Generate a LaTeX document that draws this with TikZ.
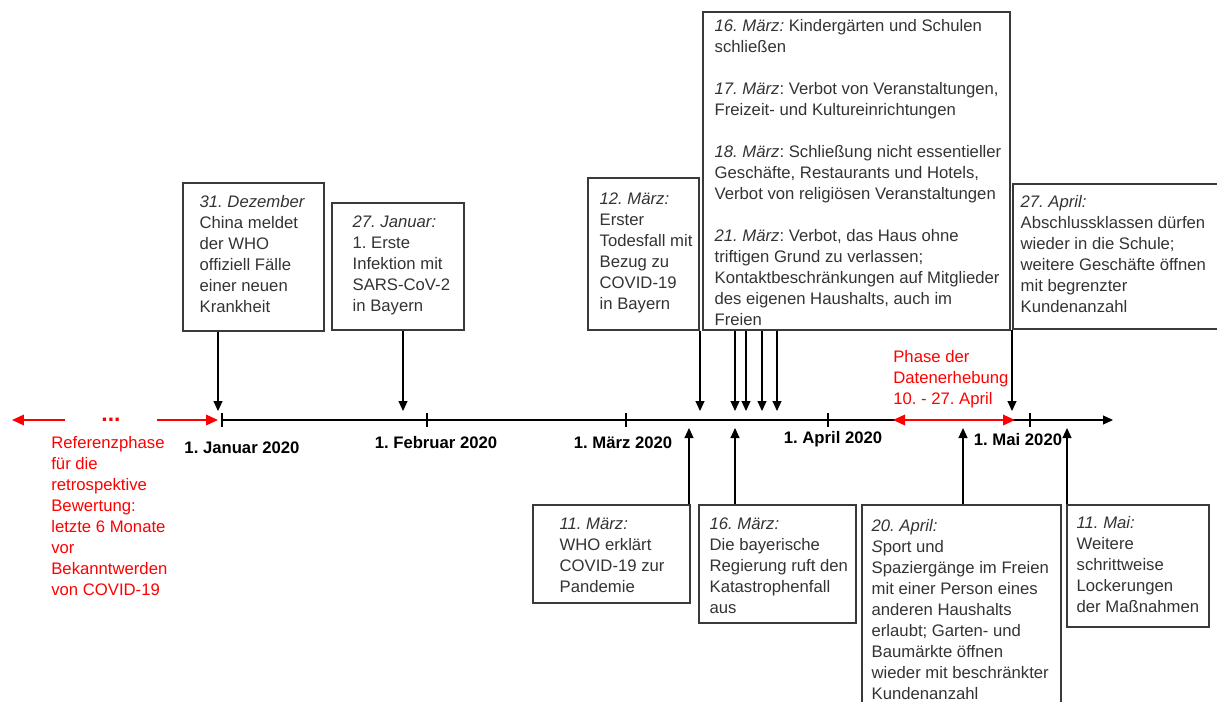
\documentclass[tikz,border=0pt]{standalone}
\usepackage{fontspec}
\setmainfont{Liberation Sans}
\usetikzlibrary{arrows.meta,fit}
\definecolor{boxgray}{HTML}{3A3A3A}
\definecolor{textgray}{HTML}{333333}
\newcommand\evfont{\fontsize{9.5}{11.95}\selectfont}
\frenchspacing

\begin{document}
\begin{tikzpicture}[
	x=0.02cm, y=-0.02cm,
	box/.style={draw=boxgray, line width=0.8pt, inner sep=0pt},
	evtext/.style={anchor=north west, inner sep=0pt, align=left, font=\evfont, text=textgray},
	month/.style={inner sep=0pt, font=\evfont\bfseries, text=black},
	redtext/.style={anchor=north west, inner sep=0pt, align=left, font=\evfont, text=red},
	evarrow/.style={-{Triangle[length=2mm,width=1.8mm]}, draw=black, line width=0.6pt},
	redarrow/.style={-{Triangle[length=2.4mm,width=2.1mm]}, draw=red, line width=1.1pt},
	]
	\useasboundingbox (0,0) rectangle (1217,701);
	
	%-----------------------
	% Timeline
	%-----------------------
	\coordinate (tl-start) at (222,420);
	\coordinate (tl-end) at (1113,420);
	\draw[evarrow] (tl-start) -- (tl-end);
	\foreach \x in {222,427,626,828,1030}
		\draw[line width=0.6pt] (\x,413) -- (\x,427);
	
	\node[month] (m-jan) at (242,448) {1. Januar 2020};
	\node[month] (m-feb) at (436,443) {1. Februar 2020};
	\node[month] (m-mar) at (623,443) {1. März 2020};
	\node[month] (m-apr) at (833,439) {1. April 2020};
	\node[month] (m-mai) at (1018,440) {1. Mai 2020};
	
	%-----------------------
	% Reference phase (red)
	%-----------------------
	\coordinate (ref-l1) at (65,420);
	\coordinate (ref-l2) at (12,420);
	\coordinate (ref-r1) at (157,420);
	\coordinate (ref-r2) at (218,420);
	\draw[redarrow] (ref-l1) -- (ref-l2);
	\draw[redarrow] (ref-r1) -- (ref-r2);
	\node[inner sep=0pt, text=red, font=\fontsize{13}{13}\selectfont\bfseries] (dots) at (111,420) {...};
	\node[redtext] (reftext) at (51,436) {Referenzphase\\für die\\retrospektive\\Bewertung:\\letzte 6 Monate\\vor\\Bekanntwerden\\von COVID-19};
	
	%-----------------------
	% Data collection phase (red)
	%-----------------------
	\coordinate (dat-a) at (893,420);
	\coordinate (dat-b) at (1015,420);
	\draw[redarrow, {Triangle[length=2.4mm,width=2.1mm]}-{Triangle[length=2.4mm,width=2.1mm]}] (dat-a) -- (dat-b);
	\node[redtext] (dattext) at (893,350) {Phase der\\Datenerhebung\\10. - 27. April};
	
	%-----------------------
	% Events above the line
	%-----------------------
	\node[box, fit={(183,183) (324,331)}] (dez31) {};
	\node[evtext] (dez31-t) at ([shift={(17,13)}]dez31.north west)
		{\textit{31. Dezember}\\China meldet\\der WHO\\offiziell Fälle\\einer neuen\\Krankheit};
	
	\node[box, fit={(332,203) (464,330)}] (jan27) {};
	\node[evtext] (jan27-t) at ([shift={(21,13)}]jan27.north west)
		{\textit{27. Januar:}\\1. Erste\\Infektion mit\\SARS-CoV-2\\in Bayern};
	
	\node[box, fit={(588,178) (699,330)}] (mar12) {};
	\node[evtext] (mar12-t) at ([shift={(12,15)}]mar12.north west)
		{\textit{12. März:}\\Erster\\Todesfall mit\\Bezug zu\\COVID-19\\in Bayern};
	
	\node[box, fit={(703,12) (1010,330)}] (maerz) {};
	\node[evtext] (maerz-t) at ([shift={(12,8)}]maerz.north west)
		{\textit{16. März:} Kindergärten und Schulen\\schließen\\[11.95pt]
		 \textit{17. März}: Verbot von Veranstaltungen,\\Freizeit- und Kultureinrichtungen\\[11.95pt]
		 \textit{18. März}: Schließung nicht essentieller\\Geschäfte, Restaurants und Hotels,\\Verbot von religiösen Veranstaltungen\\[11.95pt]
		 \textit{21. März}: Verbot, das Haus ohne\\triftigen Grund zu verlassen;\\Kontaktbeschränkungen auf Mitglieder\\des eigenen Haushalts, auch im\\Freien};
	
	\node[box, fit={(1013,184) (1219,329)}] (apr27) {};
	\node[evtext] (apr27-t) at ([shift={(8,12)}]apr27.north west)
		{\textit{27. April:}\\Abschlussklassen dürfen\\wieder in die Schule;\\weitere Geschäfte öffnen\\mit begrenzter\\Kundenanzahl};
	
	%-----------------------
	% Events below the line
	%-----------------------
	\node[box, fit={(533,505) (690,603)}] (mar11) {};
	\node[evtext] (mar11-t) at ([shift={(27,13)}]mar11.north west)
		{\textit{11. März:}\\WHO erklärt\\COVID-19 zur\\Pandemie};
	
	\node[box, fit={(699,505) (856,623)}] (mar16) {};
	\node[evtext] (mar16-t) at ([shift={(11,13)}]mar16.north west)
		{\textit{16. März:}\\Die bayerische\\Regierung ruft den\\Katastrophenfall\\aus};
	
	\node[box, fit={(862,505) (1061,706)}] (apr20) {};
	\node[evtext] (apr20-t) at ([shift={(10,15)}]apr20.north west)
		{\textit{20. April:}\\\textit{S}port und\\Spaziergänge im Freien\\mit einer Person eines\\anderen Haushalts\\erlaubt; Garten- und\\Baumärkte öffnen\\wieder mit beschränkter\\Kundenanzahl};
	
	\node[box, fit={(1067,505) (1209,627)}] (mai11) {};
	\node[evtext] (mai11-t) at ([shift={(10,12)}]mai11.north west)
		{\textit{11. Mai:}\\Weitere\\schrittweise\\Lockerungen\\der Maßnahmen};
	
	%-----------------------
	% Connections
	%-----------------------
	\coordinate (p-dez31) at (218,411);
	\coordinate (p-jan27) at (403,411);
	\coordinate (p-mar12) at (700,411);
	\coordinate (p-mar16a) at (735,411);
	\coordinate (p-mar17) at (746,411);
	\coordinate (p-mar18) at (762,411);
	\coordinate (p-mar21) at (777,411);
	\coordinate (p-apr27) at (1012,411);
	\coordinate (p-mar11) at (689,428);
	\coordinate (p-mar16b) at (735,428);
	\coordinate (p-apr20) at (963,428);
	\coordinate (p-mai11) at (1067,428);
	
	% boxes above -> timeline
	\draw[evarrow] (p-dez31 |- dez31.south) -- (p-dez31);
	\draw[evarrow] (p-jan27 |- jan27.south) -- (p-jan27);
	\draw[evarrow] (p-mar12 |- mar12.south) -- (p-mar12);
	\draw[evarrow] (p-mar16a |- maerz.south) -- (p-mar16a);
	\draw[evarrow] (p-mar17 |- maerz.south) -- (p-mar17);
	\draw[evarrow] (p-mar18 |- maerz.south) -- (p-mar18);
	\draw[evarrow] (p-mar21 |- maerz.south) -- (p-mar21);
	\draw[evarrow] (p-apr27 |- apr27.south) -- (p-apr27);
	
	% boxes below -> timeline
	\draw[evarrow] (p-mar11 |- mar11.north) -- (p-mar11);
	\draw[evarrow] (p-mar16b |- mar16.north) -- (p-mar16b);
	\draw[evarrow] (p-apr20 |- apr20.north) -- (p-apr20);
	\draw[evarrow] (p-mai11 |- mai11.north) -- (p-mai11);
	
\end{tikzpicture}
\end{document}
